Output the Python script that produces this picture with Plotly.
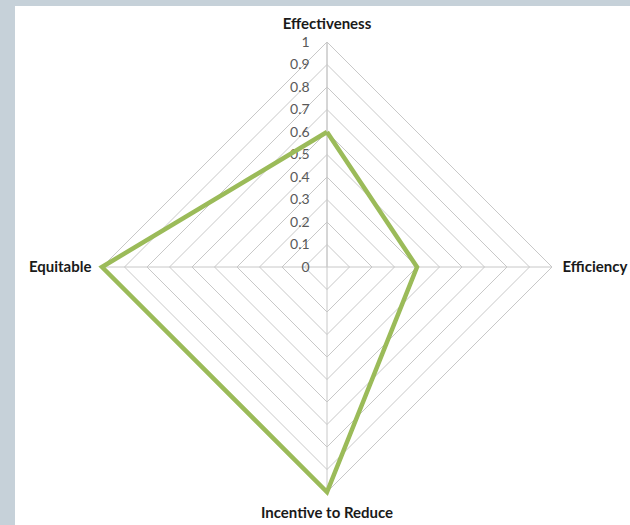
import plotly.graph_objects as go

# Criteria scored on a 0-1 scale
criteria = ["Effectiveness", "Efficiency", "Incentive to Reduce", "Equitable"]
scores = [0.6, 0.4, 1.0, 1.0]

# Radial scale ticks
tick_values = [0, 0.1, 0.2, 0.3, 0.4, 0.5, 0.6, 0.7, 0.8, 0.9, 1]
tick_labels = ["0", "0.1", "0.2", "0.3", "0.4", "0.5", "0.6", "0.7", "0.8", "0.9", "1"]

W, H = 630, 525
grid = "#c8c8c8"
cx, cy, rad = 327, 267, 225
pad = 8  # extra room so the thick outline is not clipped at the outer ring


def square_domain(r):
    return dict(x=[(cx - r) / W, (cx + r) / W],
                y=[(H - cy - r) / H, (H - cy + r) / H])


fig = go.Figure()
# grid subplot: same series, invisible, so the frame gets drawn
fig.add_trace(go.Scatterpolar(
    r=scores + scores[:1],
    theta=criteria + criteria[:1],
    mode="lines",
    line=dict(color="rgba(0,0,0,0)", width=0),
    subplot="polar",
    hoverinfo="skip",
    showlegend=False,
))
# overlay subplot: the visible outline
fig.add_trace(go.Scatterpolar(
    r=scores + scores[:1],
    theta=criteria + criteria[:1],
    mode="lines",
    line=dict(color="#9bbb59", width=4.5),
    subplot="polar2",
    hoverinfo="skip",
    showlegend=False,
))

fig.update_layout(
    width=W, height=H,
    margin=dict(l=0, r=0, t=0, b=0),
    paper_bgcolor="white",
    plot_bgcolor="white",
    showlegend=False,
    polar=dict(
        domain=square_domain(rad),
        bgcolor="white",
        gridshape="linear",
        radialaxis=dict(
            range=[0, 1],
            tickvals=tick_values,
            ticktext=tick_labels,
            angle=90,
            tickangle=90,
            side="counterclockwise",
            showline=True,
            linecolor=grid,
            linewidth=1,
            gridcolor=grid,
            gridwidth=1,
            ticks="outside",
            ticklen=12,
            tickcolor="rgba(0,0,0,0)",
            tickfont=dict(family="Lato", size=14, color="#595959"),
        ),
        angularaxis=dict(
            categoryarray=criteria,
            rotation=90,
            direction="clockwise",
            showline=True,
            linecolor=grid,
            linewidth=1,
            gridcolor=grid,
            ticks="outside",
            ticklen=7,
            tickcolor="rgba(0,0,0,0)",
            tickfont=dict(family="Lato", size=15, color="#1a1a1a", weight="bold"),
        ),
    ),
    # transparent overlay carrying the data outline on the same scale
    polar2=dict(
        domain=square_domain(rad + pad),
        bgcolor="rgba(0,0,0,0)",
        gridshape="linear",
        radialaxis=dict(range=[0, (rad + pad) / rad], visible=False),
        angularaxis=dict(
            categoryarray=criteria,
            rotation=90,
            direction="clockwise",
            visible=False,
        ),
    ),
    shapes=[
        dict(type="rect", xref="paper", yref="paper", x0=0, x1=15 / W, y0=0, y1=1,
             fillcolor="#c6d1d9", line=dict(width=0), layer="below"),
        dict(type="rect", xref="paper", yref="paper", x0=0, x1=1, y0=(H - 6) / H, y1=1,
             fillcolor="#c6d1d9", line=dict(width=0), layer="below"),
    ],
)

fig.write_html("out.html")
